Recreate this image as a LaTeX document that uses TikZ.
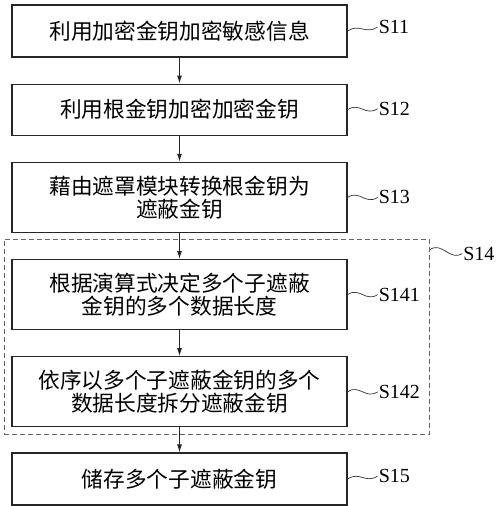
\documentclass[tikz,border=0pt]{standalone}
\usepackage{fontspec}
\setmainfont{Liberation Serif}
\newfontfamily\cjk{Noto Sans CJK SC}
\usetikzlibrary{positioning,fit,arrows.meta}

\begin{document}
\begin{tikzpicture}[
        x=1bp, y=1bp,
        node distance=26bp and 30bp,
        stepbox/.style={draw=black!85, line width=1.2bp, minimum width=335bp, minimum height=52bp, align=center, inner sep=0pt, font=\cjk\fontsize{21.7bp}{23bp}\selectfont},
        tallbox/.style={stepbox, minimum height=70bp},
        steplabel/.style={inner sep=1bp, font=\fontsize{20bp}{20bp}\selectfont},
        wave/.style={line width=0.7bp, draw=black!80},
        grpbox/.style={draw=black!60, dash pattern=on 5bp off 3bp, line width=1bp, inner sep=0pt},
        flow/.style={-{Latex[length=8bp,width=5bp]}, line width=1bp, draw=black!85}
    ]

  % Frame
  \path[fill=white] (0,0) rectangle (500,-506);

  % Steps
  \node[stepbox] (s11) at (179.5,-31) {利用加密金钥加密敏感信息};
  \node[stepbox, below=of s11, minimum height=51bp] (s12) {利用根金钥加密加密金钥};
  \node[tallbox, below=of s12] (s13) {藉由遮罩模块转换根金钥为\\遮蔽金钥};
  \node[tallbox, below=of s13] (s141) {根据演算式决定多个子遮蔽\\金钥的多个数据长度};
  \node[tallbox, below=of s141] (s142) {依序以多个子遮蔽金钥的多个\\数据长度拆分遮蔽金钥};
  \node[stepbox, below=25bp of s142] (s15) {储存多个子遮蔽金钥};

  % Group S14
  \coordinate (g1) at ([xshift=-7bp, yshift=20bp]s141.north west);
  \coordinate (g2) at ([xshift=82bp, yshift=-7bp]s142.south east);
  \node[grpbox, fit=(g1)(g2)] (s14) {};

  % Labels
  \node[steplabel, right=of s11, yshift=4bp] (l11) {S11};
  \node[steplabel, right=of s12, yshift=1bp] (l12) {S12};
  \node[steplabel, right=of s13] (l13) {S13};
  \node[steplabel, right=of s141] (l141) {S141};
  \node[steplabel, right=of s142] (l142) {S142};
  \node[steplabel, right=of s15, yshift=3bp] (l15) {S15};
  \node[steplabel, right=32bp of s14.north east, yshift=-15bp] (l14) {S14};

  \foreach \a/\b in {s11/l11, s12/l12, s13/l13, s141/l141, s142/l142, s15/l15}
    \draw[wave] (\a.east) .. controls +(12,8) and +(-12,-8) .. (\b.west);
  \draw[wave] ([yshift=-11bp]s14.north east) .. controls +(12,8) and +(-12,-8) .. (l14.west);

  % Arrows
  \foreach \a/\b in {s11/s12, s12/s13, s13/s141, s141/s142, s142/s15}
    \draw[flow] (\a) -- (\b);
\end{tikzpicture}
\end{document}
